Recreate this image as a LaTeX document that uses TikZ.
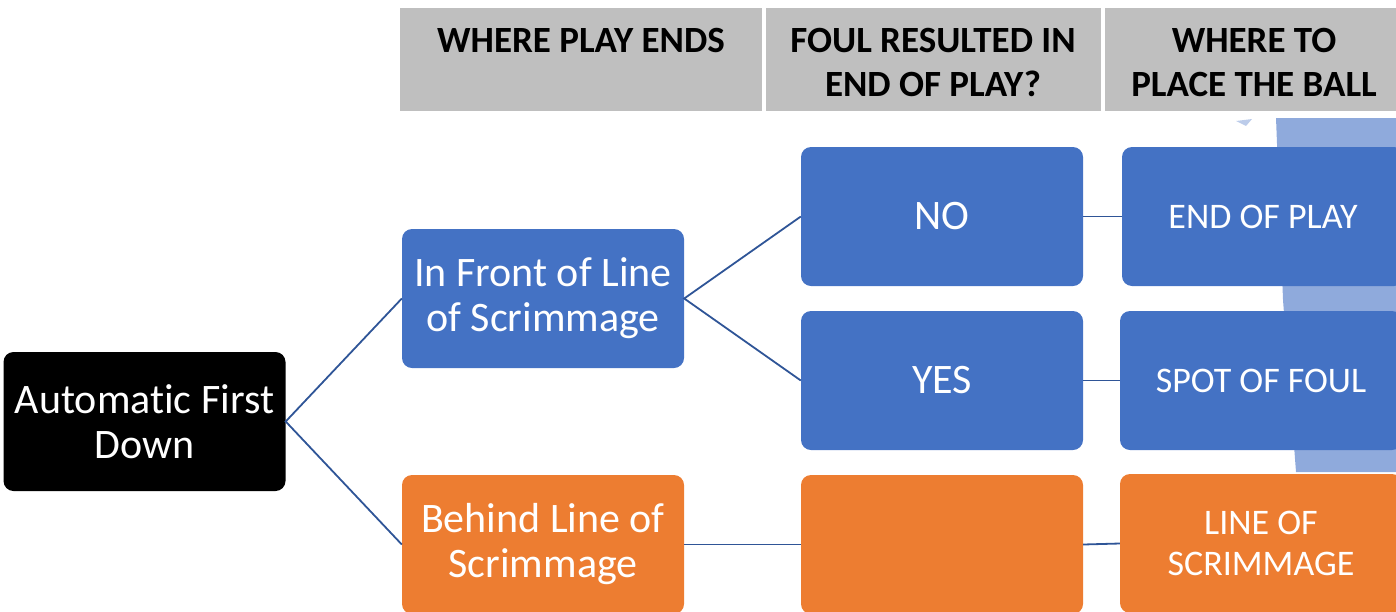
\documentclass[tikz,border=0pt]{standalone}
\usepackage{fontspec}
\setmainfont{Carlito}[Ligatures={NoCommon,NoRequired,NoContextual}]
\definecolor{hdrgray}{HTML}{BFBFBF}
\definecolor{accblue}{HTML}{4472C4}
\definecolor{accorange}{HTML}{ED7D31}
\definecolor{brush}{HTML}{8FAADC}
\definecolor{linkblue}{HTML}{2F5597}
\begin{document}
\begin{tikzpicture}[x=1pt,y=-1pt,
  box/.style={rounded corners=10pt, minimum width=282pt, minimum height=139pt, inner sep=0pt, align=center, text=white},
  bigtext/.style={font=\fontsize{42}{45}\selectfont},
  smalltext/.style={font=\fontsize{36}{41}\selectfont},
  hdr/.style={fill=hdrgray, minimum height=103pt, inner sep=0pt, anchor=north west},
  hdrtext/.style={font=\bfseries\fontsize{37}{44}\selectfont, align=center, anchor=north},
  link/.style={draw=linkblue, line width=1.8pt}]
\useasboundingbox (0,0) rectangle (1396,611);
% brush stroke behind right column
\fill[brush] (1276,118) -- (1396,118) -- (1396,472) -- (1296,472) -- (1283,300) -- cycle;
\fill[brush!60] (1236,121) -- (1252,119) -- (1246,126) -- cycle;
% header
\node[hdr, minimum width=362pt] (h1) at (400,8) {};
\node[hdr, minimum width=335pt] (h2) at (766,8) {};
\node[hdr, minimum width=291pt] (h3) at (1105,8) {};
\node[hdrtext] (t1) at (581,25) {WHERE PLAY ENDS};
\node[hdrtext] (t2) at (933,25) {FOUL RESULTED IN\\END OF PLAY?};
\node[hdrtext] (t3) at (1254,25) {WHERE TO\\PLACE THE BALL};
% nodes
\node[box, bigtext, fill=black] (root) at (144.5,421.5) {Automat\kern0pt ic First\\Down};
\node[box, bigtext, fill=accblue] (front) at (543,298.5) {In Front of Line\\of Scrimmage};
\node[box, bigtext, fill=accorange] (behind) at (543,544.5) {Behind Line of\\Scrimmage};
\node[box, bigtext, fill=accblue] (no) at (942,216.5) {NO};
\node[box, bigtext, fill=accblue] (yes) at (942,380.5) {YES};
\node[box, bigtext, fill=accorange] (empty) at (942,544.5) {};
\node[box, smalltext, fill=accblue] (endplay) at (1263,216.5) {END OF PLAY};
\node[box, smalltext, fill=accblue] (spot) at (1261,380.5) {SPOT OF FOUL};
\node[box, smalltext, fill=accorange] (los) at (1261,543.5) {LINE OF\\SCRIMMAGE};
% connectors
\draw[link] (front.west) -- (root.east) -- (behind.west);
\draw[link] (no.west) -- (front.east) -- (yes.west);
\draw[link] (behind.east) -- (empty.west);
\draw[link] (no.east) -- (endplay.west);
\draw[link] (yes.east) -- (spot.west);
\draw[link] (empty.east) -- (los.west);
\end{tikzpicture}
\end{document}
